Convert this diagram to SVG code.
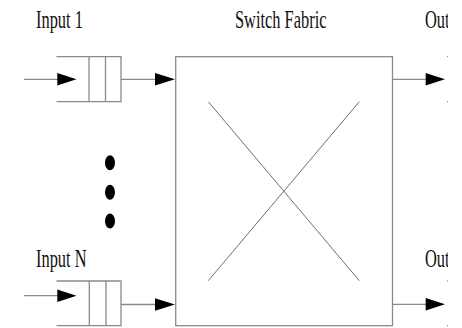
<svg xmlns="http://www.w3.org/2000/svg" width="462" height="328" viewBox="0 0 462 328">
<style>
.ln{stroke:#8a8a8a;stroke-width:1.3;fill:none}
.dg{stroke:#6e6e6e;stroke-width:1;fill:none}
.tx{font-family:"Liberation Serif","Times New Roman",serif;font-size:25px;fill:#111}
.ah{fill:#000}
</style>
<defs>
<clipPath id="clipR"><rect x="0" y="0" width="448" height="328"/></clipPath>
</defs>
<rect x="0" y="0" width="462" height="328" fill="#fff"/>
<g id="labels">
<text class="tx" transform="translate(36,27.5) scale(0.656,1)">Input 1</text>
<text class="tx" transform="translate(235,27.5) scale(0.656,1)">Switch Fabric</text>
<text class="tx" transform="translate(36,266.7) scale(0.656,1)">Input N</text>
<g clip-path="url(#clipR)">
<text class="tx" transform="translate(425,27.5) scale(0.656,1)">Out</text>
<text class="tx" transform="translate(425,266.7) scale(0.656,1)">Out</text>
</g>
</g>
<g id="queue1">
<path class="ln" d="M56.5,56.7H121V101.7H56.5M89,56.7V101.7M105.5,56.7V101.7"/>
</g>
<g id="queueN">
<path class="ln" d="M56.5,281H121V325.7H56.5M89.3,281V325.7M106,281V325.7"/>
</g>
<g id="switch">
<rect class="ln" x="175.7" y="56.7" width="216.8" height="269"/>
<path class="dg" d="M208.3,101.7L359.3,280.7M359.3,101.7L208.3,280.7"/>
</g>
<g id="dots">
<ellipse cx="110" cy="162.7" rx="5" ry="7.5" fill="#000"/>
<ellipse cx="110" cy="192.3" rx="5" ry="7.5" fill="#000"/>
<ellipse cx="110" cy="221" rx="5" ry="7.5" fill="#000"/>
</g>
<g id="outstubs" fill="#888">
<rect x="447" y="55.8" width="1.2" height="1.2"/>
<rect x="447" y="101" width="1.2" height="1.2"/>
<rect x="447" y="280.4" width="1.2" height="1.2"/>
<rect x="447" y="325" width="1.2" height="1.2"/>
</g>
<g id="connectors">
<path class="ln" d="M24,79.3H58"/>
<polygon class="ah" points="57.3,73 76.5,79.3 57.3,85.6"/>
<path class="ln" d="M121,79.3H156"/>
<polygon class="ah" points="155,73 175,79.3 155,85.6"/>
<path class="ln" d="M24,295.7H58"/>
<polygon class="ah" points="57.3,289.4 76.5,295.7 57.3,302"/>
<path class="ln" d="M121,304.5H156"/>
<polygon class="ah" points="155,298.2 175,304.5 155,310.8"/>
<path class="ln" d="M392.5,79.3H427"/>
<polygon class="ah" points="425.7,73 445,79.3 425.7,85.6"/>
<path class="ln" d="M392.5,304.3H427"/>
<polygon class="ah" points="425.7,298 445,304.3 425.7,310.6"/>
</g>
</svg>
